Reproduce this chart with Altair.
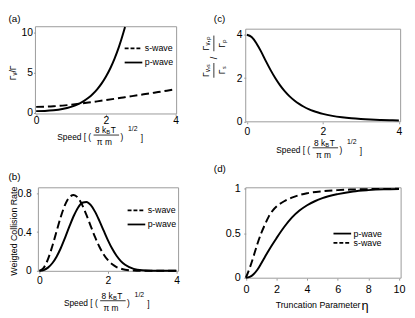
import altair as alt
import pandas as pd

# ---------------- data ----------------
# (a) relative collision rate vs speed
a_s_speed = [0, 0.25, 0.5, 0.75, 1, 1.25, 1.5, 1.75, 2, 2.25, 2.5, 2.75, 3, 3.25, 3.5, 3.75, 4]
a_s_rate = [0.707, 0.726, 0.779, 0.865, 0.974, 1.103, 1.245, 1.395, 1.553, 1.714, 1.879, 2.045, 2.214, 2.383, 2.555, 2.725, 2.898]
a_p_speed = [0, 0.25, 0.5, 0.75, 1, 1.125, 1.25, 1.375, 1.5, 1.625, 1.75, 1.875, 2, 2.125, 2.25, 2.375, 2.5, 2.55]
a_p_rate = [0.177, 0.201, 0.280, 0.435, 0.703, 0.898, 1.144, 1.453, 1.838, 2.313, 2.896, 3.606, 4.464, 5.494, 6.725, 8.183, 9.908, 10.68]

# (b) weighted collision rate vs speed
b_speed = [0, 0.125, 0.25, 0.375, 0.5, 0.625, 0.75, 0.875, 1, 1.125, 1.25, 1.375, 1.5, 1.625,
           1.75, 1.875, 2, 2.125, 2.25, 2.375, 2.5, 2.75, 3, 3.25, 3.5, 4]
b_s = [0, 0.031, 0.1205, 0.253, 0.407, 0.559, 0.683, 0.761, 0.783, 0.753, 0.678, 0.574, 0.459, 0.347,
       0.2485, 0.1695, 0.1097, 0.0675, 0.0396, 0.0222, 0.0118, 0.0029, 0.0006, 0.0001, 0, 0]
b_p = [0, 0.008, 0.0333, 0.0785, 0.1463, 0.236, 0.3433, 0.4581, 0.5658, 0.6519, 0.7027, 0.7112, 0.6774, 0.6086,
       0.516, 0.4147, 0.3152, 0.2271, 0.1555, 0.1009, 0.0622, 0.0205, 0.0055, 0.0013, 0.0003, 0]

# (c) ratio of the normalised s- and p-wave rates
c_speed = [0, 0.125, 0.25, 0.375, 0.5, 0.625, 0.75, 0.875, 1, 1.125, 1.25, 1.375, 1.5, 1.625, 1.75,
           1.875, 2, 2.25, 2.5, 2.75, 3, 3.25, 3.5, 3.75, 4]
c_ratio = [4.0, 3.896, 3.614, 3.224, 2.782, 2.368, 1.99, 1.662, 1.385, 1.155, 0.964, 0.807, 0.677, 0.57, 0.482,
           0.409, 0.348, 0.255, 0.19, 0.1426, 0.1095, 0.085, 0.0666, 0.0529, 0.0425]

# (d) fraction vs truncation parameter
d_eta_s = [0, 0.25, 0.5, 0.75, 1, 1.25, 1.5, 1.75, 2, 2.5, 3, 3.5, 4, 5, 6, 7, 8, 9, 10]
d_s = [0, 0.11, 0.24, 0.38, 0.50, 0.60, 0.69, 0.755, 0.80, 0.86, 0.90, 0.93, 0.95, 0.972, 0.985, 0.992, 0.996, 0.998, 1.0]
d_eta_p = [0, 0.25, 0.5, 0.75, 1, 1.25, 1.5, 2, 2.5, 3, 3.5, 4, 4.5, 5, 6, 7, 8, 9, 10]
d_p = [0, 0.01, 0.04, 0.09, 0.16, 0.235, 0.31, 0.445, 0.57, 0.675, 0.755, 0.815, 0.86, 0.895, 0.94, 0.97, 0.985, 0.994, 0.998]

# tick values
ticks_speed = [0, 2, 4]
ticks_a_y = [0, 5, 10]
ticks_b_y = [0, 0.4, 0.8]
ticks_c_y = [0, 2, 4]
ticks_d_x = [0, 2, 4, 6, 8, 10]
ticks_d_y = [0, 0.5, 1]

# ---------------- layout helpers ----------------
W, H = 407, 310
FONT = "Liberation Sans"
ONE = pd.DataFrame({"k": [0]})


def gx(px):
    return px - 8


def axis_x(vals, bottom_px, pad, size=10.5):
    return alt.Axis(values=vals, orient="bottom", offset=gx(bottom_px) - H, title=None, grid=False,
                    domain=False, ticks=True, tickSize=2, tickColor="#999", labelFont=FONT,
                    labelFontSize=size, labelColor="black", labelPadding=pad, labelFlush=False,
                    labelOverlap=False, format="~r")


def axis_y(vals, left_px, pad, size=10.5):
    return alt.Axis(values=vals, orient="left", offset=-gx(left_px), title=None, grid=False,
                    domain=False, ticks=True, tickSize=2, tickColor="#999", labelFont=FONT,
                    labelFontSize=size, labelColor="black", labelPadding=pad, labelFlush=False,
                    labelOverlap=False, format="~r")


def panel(series, xdom, ydom, box, xticks, yticks, xpad, ypad, lsize=10.5):
    left, right, top, bottom = box
    sx = alt.Scale(domain=xdom, range=[gx(left), gx(right)], nice=False, zero=False)
    sy = alt.Scale(domain=ydom, range=[gx(bottom), gx(top)], nice=False, zero=False)
    ax = axis_x(xticks, bottom, xpad, lsize)
    ay = axis_y(yticks, left, ypad, lsize)
    fr = pd.DataFrame({"x0": [xdom[0]], "x1": [xdom[1]], "y0": [ydom[0]], "y1": [ydom[1]]})
    layers = [alt.Chart(fr).mark_rect(fillOpacity=0, stroke="#9a9a9a", strokeWidth=1).encode(
        x=alt.X("x0:Q", scale=sx, axis=ax), x2="x1:Q",
        y=alt.Y("y0:Q", scale=sy, axis=ay), y2="y1:Q")]
    for xs, ys, dash in series:
        df = pd.DataFrame({"x": xs, "y": ys})
        kw = {"strokeDash": dash} if dash else {}
        layers.append(alt.Chart(df).mark_line(color="black", strokeWidth=2, interpolate="monotone", **kw).encode(
            x=alt.X("x:Q", scale=sx, axis=ax), y=alt.Y("y:Q", scale=sy, axis=ay)))
    return alt.layer(*layers)


def txt(s, x, y, size=9, angle=0, align="left", baseline="middle"):
    kw = {"angle": angle} if angle else {}
    return alt.Chart(ONE).mark_text(text=s, fontSize=size, align=align, baseline=baseline, font=FONT,
                                    color="black", **kw).encode(x=alt.value(gx(x)), y=alt.value(gx(y)))


def rule(x1, y1, x2, y2, dash=None, width=1.0):
    kw = {"strokeDash": dash} if dash else {}
    return alt.Chart(ONE).mark_rule(color="black", strokeWidth=width, **kw).encode(
        x=alt.value(gx(x1)), x2=alt.value(gx(x2)), y=alt.value(gx(y1)), y2=alt.value(gx(y2)))


def speed_title(L, B):
    return [
        txt("Speed  [ (", L, B + 2, 8.5),
        txt("8 k", L + 38.5, B - 5, 8.5),
        txt("B", L + 50, B - 3, 6),
        txt("T", L + 54.5, B - 5, 8.5),
        rule(L + 37, B, L + 63, B, width=0.8),
        txt("π m", L + 48, B + 7, 8.5, align="center"),
        txt(")", L + 64.5, B + 2, 8.5),
        txt("1/2", L + 77, B - 6, 7, align="center"),
        txt("]", L + 85, B + 3, 8.5),
    ]


def legend(x0, y0, y1, first, second, dash0, dash1):
    out = []
    for yy, lab, d in ((y0, first, dash0), (y1, second, dash1)):
        out.append(rule(x0, yy, x0 + 18, yy, dash=d, width=1.8))
        out.append(txt(lab, x0 + 20.5, yy, 9))
    return out


DASH = [8, 4]
LDASH = [4, 2]

pa = panel([(a_s_speed, a_s_rate, DASH), (a_p_speed, a_p_rate, None)],
           [-0.02, 4.03], [-0.18, 10.7], (36, 180, 24, 113), ticks_speed, ticks_a_y, 0, 1)
pb = panel([(b_speed, b_s, DASH), (b_speed, b_p, None)],
           [-0.03, 4.06], [-0.005, 0.857], (39, 182, 188.3, 273.5), ticks_speed, ticks_b_y, 2.5, 5.3)
pc = panel([(c_speed, c_ratio, None)],
           [-0.03, 4.046], [-0.02, 4.26], (250.5, 408.5, 26.5, 121), ticks_speed, ticks_c_y, 3, 1.8)
pd_ = panel([(d_eta_s, d_s, DASH), (d_eta_p, d_p, None)],
            [-0.01, 10.14], [-0.005, 1.011], (250.5, 409, 188.3, 280.5), ticks_d_x, ticks_d_y, 4, 3.5, 11)

deco = []
# panel letters
deco += [txt("(a)", 8.5, 15.8, 10), txt("(b)", 8.5, 177.5, 10), txt("(c)", 218, 16, 10), txt("(d)", 218, 169, 10)]
# axis titles
deco += [txt("Γᵥ/Γ", 13, 71, 9, angle=270, align="center")]
deco += [txt("Weigted Collision Rate", 14.5, 232.5, 9, angle=270, align="center")]
deco += [txt("Truncation Parameter", 281, 307.7, 9), txt("η", 368.5, 309, 13)]
deco += speed_title(58.3, 134.5) + speed_title(65, 303.5) + speed_title(281.7, 147.5)
# (c) y title: (Γv,s / Γs) / (Γv,p / Γp)
deco += [
    txt("Γᵥ,ₛ", 210.5, 68.5, 9, angle=270, align="center"),
    rule(218, 61, 218, 76, width=0.8),
    txt("Γₛ", 226, 68.5, 9, angle=270, align="center"),
    txt("/", 218, 56, 9, angle=270, align="center"),
    txt("Γᵥ,ₚ", 210.5, 41, 9, angle=270, align="center"),
    rule(218, 33, 218, 49, width=0.8),
    txt("Γₚ", 226, 41, 9, angle=270, align="center"),
]
# legends
deco += legend(127, 46, 60.5, "s-wave", "p-wave", LDASH, None)
deco += legend(130, 211.3, 225.7, "s-wave", "p-wave", LDASH, None)
deco += legend(340, 235, 244.5, "p-wave", "s-wave", None, LDASH)

chart = alt.layer(pa, pb, pc, pd_, *deco).resolve_scale(
    x="independent", y="independent").resolve_axis(x="independent", y="independent").properties(
    width=W, height=H, autosize=alt.AutoSizeParams(type="none"), padding=0,
    background="white").configure_view(stroke=None)

chart.save("out.html", embed_options={"renderer": "svg", "actions": False})
